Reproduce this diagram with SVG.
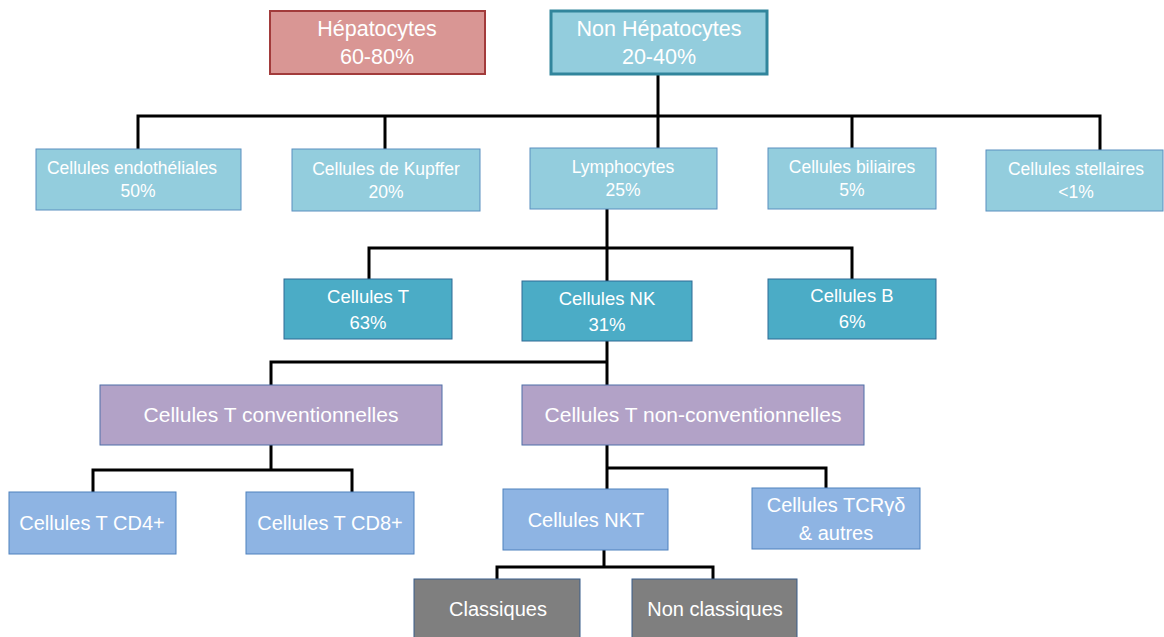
<svg xmlns="http://www.w3.org/2000/svg" width="1164" height="637" viewBox="0 0 1164 637">
<style>
text{font-family:"Liberation Sans",Arial,sans-serif;fill:#fff;text-anchor:middle}
.t1{font-size:21.5px}
.t2{font-size:17.5px}
.t3{font-size:18.5px}
.t4{font-size:21px}
.t5{font-size:20px}
.l2{fill:#93cddd;stroke:#5b8fbf;stroke-width:1}
.l3{fill:#4bacc6;stroke:#2e6b95;stroke-width:1}
.l4{fill:#b2a2c7;stroke:#4f6fa8;stroke-width:1}
.l5{fill:#8eb4e3;stroke:#4f81bd;stroke-width:1}
.l6{fill:#7f7f7f;stroke:#385d8a;stroke-width:1}
.c{fill:none;stroke:#000;stroke-width:3}
</style>
<rect width="1164" height="637" fill="#fff"/>
<g id="connectors">
<path class="c" d="M658,74 V116"/>
<path class="c" d="M138,149 V116 H1100 V150"/>
<path class="c" d="M385,116 V149 M658,116 V148 M852,116 V148"/>
<path class="c" d="M607,209 V281 M369,279 V248 H852 V279"/>
<path class="c" d="M607,341 V385 M271,385 V362 H607"/>
<path class="c" d="M271,445 V470 M93,492 V470 H352 V492"/>
<path class="c" d="M607,445 V489 M607,468 H826 V488"/>
<path class="c" d="M604,550 V567 M497,579 V567 H713 V579"/>
</g>
<g id="hepatocytes">
<rect x="270" y="11" width="215" height="63" fill="#d99694" stroke="#a23b3b" stroke-width="2"/>
<text class="t1" x="377" y="36">Hépatocytes</text>
<text class="t1" x="377" y="64">60-80%</text>
</g>
<g id="non-hepatocytes">
<rect x="551" y="11" width="216" height="63" fill="#93cddd" stroke="#31859c" stroke-width="3"/>
<text class="t1" x="659" y="36">Non Hépatocytes</text>
<text class="t1" x="659" y="64">20-40%</text>
</g>
<g id="endotheliales">
<rect class="l2" x="36" y="149" width="205" height="61"/>
<text class="t2" x="132" y="174">Cellules endothéliales</text>
<text class="t2" x="138" y="197">50%</text>
</g>
<g id="kupffer">
<rect class="l2" x="292" y="149" width="188" height="62"/>
<text class="t2" x="386" y="175">Cellules de Kupffer</text>
<text class="t2" x="386" y="198">20%</text>
</g>
<g id="lymphocytes">
<rect class="l2" x="530" y="148" width="187" height="61"/>
<text class="t2" x="623" y="173">Lymphocytes</text>
<text class="t2" x="623" y="196">25%</text>
</g>
<g id="biliaires">
<rect class="l2" x="768" y="148" width="168" height="61"/>
<text class="t2" x="852" y="173">Cellules biliaires</text>
<text class="t2" x="852" y="196">5%</text>
</g>
<g id="stellaires">
<rect class="l2" x="986" y="150" width="177" height="61"/>
<text class="t2" x="1076" y="175">Cellules stellaires</text>
<text class="t2" x="1076" y="198">&lt;1%</text>
</g>
<g id="cellules-t">
<rect class="l3" x="284" y="279" width="168" height="60"/>
<text class="t3" x="368" y="303">Cellules T</text>
<text class="t3" x="368" y="329">63%</text>
</g>
<g id="cellules-nk">
<rect class="l3" x="522" y="281" width="170" height="60"/>
<text class="t3" x="607" y="305">Cellules NK</text>
<text class="t3" x="607" y="331">31%</text>
</g>
<g id="cellules-b">
<rect class="l3" x="768" y="279" width="168" height="60"/>
<text class="t3" x="852" y="302">Cellules B</text>
<text class="t3" x="852" y="328">6%</text>
</g>
<g id="t-conventionnelles">
<rect class="l4" x="100" y="385" width="342" height="60"/>
<text class="t4" x="271" y="422">Cellules T conventionnelles</text>
</g>
<g id="t-non-conventionnelles">
<rect class="l4" x="522" y="385" width="342" height="60"/>
<text class="t4" x="693" y="422">Cellules T non-conventionnelles</text>
</g>
<g id="cd4">
<rect class="l5" x="9" y="492" width="167" height="62"/>
<text class="t5" x="92" y="530">Cellules T CD4+</text>
</g>
<g id="cd8">
<rect class="l5" x="246" y="492" width="168" height="62"/>
<text class="t5" x="330" y="530">Cellules T CD8+</text>
</g>
<g id="nkt">
<rect class="l5" x="503" y="489" width="165" height="61"/>
<text class="t5" x="586" y="527">Cellules NKT</text>
</g>
<g id="tcr">
<rect class="l5" x="752" y="488" width="168" height="61"/>
<text class="t5" x="836" y="512">Cellules TCRγδ</text>
<text class="t5" x="836" y="540">&amp; autres</text>
</g>
<g id="classiques">
<rect class="l6" x="414" y="579" width="166" height="62"/>
<text class="t5" x="498" y="616">Classiques</text>
</g>
<g id="non-classiques">
<rect class="l6" x="632" y="579" width="165" height="62"/>
<text class="t5" x="715" y="616">Non classiques</text>
</g>
</svg>
